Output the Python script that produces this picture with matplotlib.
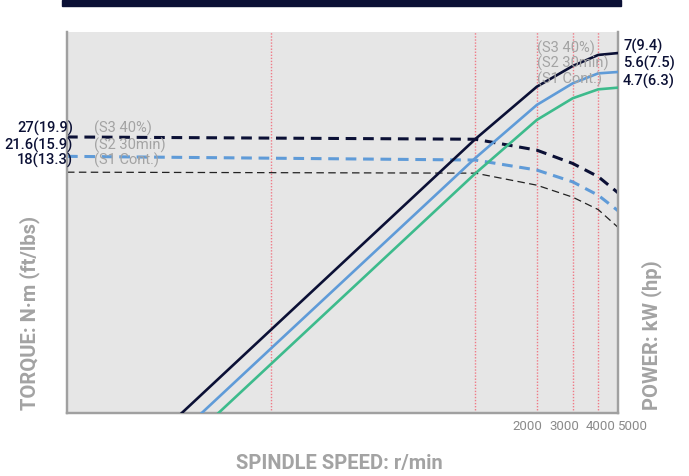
import matplotlib
matplotlib.use("Agg")
import matplotlib.pyplot as plt
import matplotlib.transforms as mtransforms
from matplotlib.patches import Rectangle

# Dados (escala log-log)
speed_torque = [10, 1000, 2000, 3000, 4000, 5000]
torque_s3 = [27, 26.3, 23.2, 19.9, 17.1, 14.2]
torque_s2 = [21.6, 20.7, 18.45, 16.1, 13.8, 11.55]
torque_s1 = [18, 17.8, 15.5, 13.5, 11.7, 9.54]

speed_p3 = [36.5, 1000, 2000, 3000, 4000, 5000]
power_s3 = [0.111, 2.6, 4.75, 6.03, 6.85, 7.0]
speed_p2 = [45.7, 1000, 2000, 3000, 4000, 5000]
power_s2 = [0.111, 2.09, 3.85, 4.94, 5.54, 5.63]
speed_p1 = [55.2, 1000, 2000, 3000, 4000, 5000]
power_s1 = [0.111, 1.75, 3.24, 4.16, 4.61, 4.7]

guide_speeds = [100, 1000, 2000, 3000, 4000]
tick_speeds = [2000, 3000, 4000, 5000]
torque_labels = ["27(19.9)", "21.6(15.9)", "18(13.3)"]
power_labels = ["7(9.4)", "5.6(7.5)", "4.7(6.3)"]
mode_labels = ["(S3 40%)", "(S2 30min)", "(S1 Cont.)"]

plt.rcParams["font.family"] = ["Roboto", "DejaVu Sans"]

NAVY = "#0b1035"
BLUE = "#5f9bd8"
GREEN = "#3dbb8c"
GRAY = "#a3a3a3"

fig = plt.figure(figsize=(6.89, 4.76), dpi=100)
ax = fig.add_axes([67 / 689, 63 / 476, 551 / 689, 381 / 476])
ax.set_facecolor("#e6e6e6")
ax2 = ax.twinx()

ax.set_xscale("log")
ax.set_yscale("log")
ax2.set_yscale("log")
ax.set_xlim(10, 5000)
ax.set_ylim(1.125, 90.4)
ax2.set_ylim(0.111, 8.92)

for s in guide_speeds:
    ax.axvline(s, color="#f07a86", lw=1.0, ls=(0, (1, 1.2)), zorder=1)

ax.plot(speed_torque, torque_s1, color="#222222", lw=0.9, ls=(0, (6, 3.5)), zorder=3)
ax.plot(speed_torque, torque_s2, color=BLUE, lw=2.2, ls=(0, (3.5, 2.2)), zorder=3)
ax.plot(speed_torque, torque_s3, color=NAVY, lw=2.2, ls=(0, (3.5, 2.2)), zorder=3)

ax2.plot(speed_p1, power_s1, color=GREEN, lw=1.9, zorder=3)
ax2.plot(speed_p2, power_s2, color=BLUE, lw=1.9, zorder=3)
ax2.plot(speed_p3, power_s3, color=NAVY, lw=1.9, zorder=3)

for a in (ax, ax2):
    a.spines["top"].set_visible(False)
    for side in ("left", "right", "bottom"):
        a.spines[side].set_color("#a0a0a0")
        a.spines[side].set_linewidth(1.6)
    a.set_yticks([])
    a.yaxis.set_minor_locator(matplotlib.ticker.NullLocator())

ax.set_xticks(tick_speeds)
ax.set_xticklabels([str(t) for t in tick_speeds])
ax.xaxis.set_minor_locator(matplotlib.ticker.NullLocator())
ax.tick_params(axis="x", length=0, pad=5, labelsize=9.5, labelcolor="#8a8a8a")
# pequenos deslocamentos como no original
for lbl, dx in zip(ax.get_xticklabels(), [-9, -8, 2, 15]):
    lbl.set_transform(lbl.get_transform() +
                      mtransforms.ScaledTranslation(dx / 100, 0, fig.dpi_scale_trans))

# Rótulos de binário (esquerda) e potência (direita)
for lab, mode, ypix in zip(torque_labels, mode_labels, [128, 145, 160]):
    fig.text(73 / 689, 1 - ypix / 476, lab, ha="right", va="center",
             color=NAVY, fontsize=10.5, fontweight="medium")
    fig.text(94 / 689, 1 - ypix / 476, mode, ha="left", va="center",
             color=GRAY, fontsize=10.5)
for lab, mode, ypix, ymode in zip(power_labels, mode_labels, [46, 63, 81], [48, 63, 79]):
    fig.text(623 / 689, 1 - ypix / 476, lab, ha="left", va="center",
             color=NAVY, fontsize=10.5, fontweight="medium")
    fig.text(537 / 689, 1 - ymode / 476, mode, ha="left", va="center",
             color=GRAY, fontsize=10.5)

fig.text(30 / 689, 1 - 410 / 476, "TORQUE: N·m (ft/lbs)", rotation=90,
         ha="center", va="bottom", color=GRAY, fontsize=14.5, fontweight="bold")
fig.text(652 / 689, 1 - 410 / 476, "POWER: kW (hp)", rotation=90,
         ha="center", va="bottom", color=GRAY, fontsize=14.5, fontweight="bold")
fig.text(339 / 689, 1 - 464 / 476, "SPINDLE SPEED: r/min", ha="center",
         va="center", color=GRAY, fontsize=14.5, fontweight="bold")

# Barra escura no topo
fig.patches.append(Rectangle((62 / 689, 1 - 6 / 476), 559 / 689, 6 / 476,
                             transform=fig.transFigure, color=NAVY))

fig.savefig("out.png", dpi=100)
